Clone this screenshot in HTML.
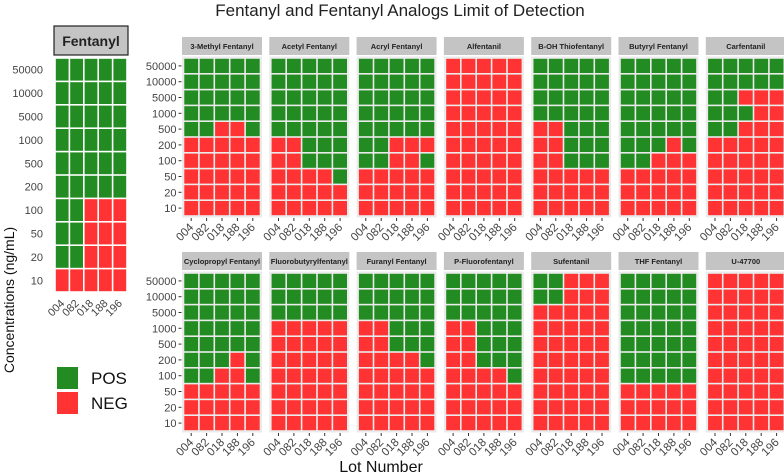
<!DOCTYPE html>
<html><head><meta charset="utf-8"><style>
body{margin:0;background:#fff;}
svg{display:block;font-family:"Liberation Sans",sans-serif;}
</style></head><body>
<svg id="chart" width="784" height="476" viewBox="0 0 784 476">
<text x="400" y="16" font-size="17" text-anchor="middle" fill="#222">Fentanyl and Fentanyl Analogs Limit of Detection</text>
<text transform="translate(14,300) rotate(-90)" font-size="14" text-anchor="middle" fill="#111">Concentrations (ng/mL)</text>
<text x="381" y="472" font-size="16" text-anchor="middle" fill="#111">Lot Number</text>
<g>
<rect x="57" y="367" width="21" height="22" fill="#228B22"/>
<text x="91" y="384" font-size="17" fill="#111">POS</text>
<rect x="57" y="392" width="21" height="22" fill="#FF3333"/>
<text x="91" y="409" font-size="17" fill="#111">NEG</text>
</g>
<g id="plots"></g>
</svg>
<script>
const concentrations = ["50000","10000","5000","1000","500","200","100","50","20","10"];
const lots = ["004","082","018","188","196"];
const panelNames = ["3-Methyl Fentanyl","Acetyl Fentanyl","Acryl Fentanyl","Alfentanil","B-OH Thiofentanyl","Butyryl Fentanyl","Carfentanil","Cyclopropyl Fentanyl","Fluorobutyrylfentanyl","Furanyl Fentanyl","P-Fluorofentanyl","Sufentanil","THF Fentanyl","U-47700"];
// rows top (50000) to bottom (10); 1 = POS, 0 = NEG; columns in lot order
const fentanylResults = ["11111","11111","11111","11111","11111","11111","11000","11000","11000","00000"];
const panelResults = [
 ["11111","11111","11111","11111","11001","00000","00000","00000","00000","00000"],
 ["11111","11111","11111","11111","11111","00111","00111","00001","00000","00000"],
 ["11111","11111","11111","11111","11111","11000","11001","00000","00000","00000"],
 ["00000","00000","00000","00000","00000","00000","00000","00000","00000","00000"],
 ["11111","11111","11111","11111","00111","00111","00111","00000","00000","00000"],
 ["11111","11111","11111","11111","11111","11101","11000","00000","00000","00000"],
 ["11111","11111","11000","11100","11000","00000","00000","00000","00000","00000"],
 ["11111","11111","11111","11111","11111","11101","11001","00000","00000","00000"],
 ["11111","11111","11111","00000","00000","00000","00000","00000","00000","00000"],
 ["11111","11111","11111","00111","00111","00001","00000","00000","00000","00000"],
 ["11111","11111","11111","00111","00111","00111","00001","00000","00000","00000"],
 ["11000","11000","00000","00000","00000","00000","00000","00000","00000","00000"],
 ["11111","11111","11111","11111","11111","11111","11111","00000","00000","00000"],
 ["00000","00000","00000","00000","00000","00000","00000","00000","00000","00000"]
];
const POS="#228B22", NEG="#FF3333";
const NS="http://www.w3.org/2000/svg";
const root=document.getElementById('plots');
function mk(tag,attrs,parent){const e=document.createElementNS(NS,tag);for(const k in attrs)e.setAttribute(k,attrs[k]);(parent||root).appendChild(e);return e;}

function drawPanel(name,results,x0,y0,w,h,opts){
  const g=mk('g',{});
  
  
  const cw=w/lots.length, ch=h/concentrations.length;
  const xs=i=>x0+i*cw, ys=j=>y0+j*ch;
  if(!opts.big){
    const bg=mk('rect',{x:x0-1.5,y:y0-1.5,width:w+3,height:h+3,fill:'#ebebeb'},g);
    
    
  }
  const st=mk('rect',opts.big?{x:x0-1,y:y0-32,width:w+2,height:29,fill:'#c4c4c4',stroke:'#222','stroke-width':1.2}:{x:x0-1.5,y:y0-21,width:w+3,height:18,fill:'#c4c4c4'},g);
  
  
  const stt=mk('text',{x:x0+w/2,y:opts.big?y0-12:y0-9,'font-size':opts.big?14:7.5,'font-weight':'bold','text-anchor':'middle',fill:'#222'},g);
  stt.textContent=name;
  
  
  results.forEach((row,j)=>{
    row.split('').forEach((v,i)=>{
      const r=mk('rect',{x:xs(i)+0.8,y:ys(j)+0.8,width:cw-1.6,height:ch-1.6,fill:v==='1'?POS:NEG},g);
      
      
    });
  });
  if(opts.yLabels){
    concentrations.forEach((c,j)=>{
      const t=mk('text',{x:opts.big?x0-12:x0-7,y:ys(j)+ch/2+4,'font-size':11,'text-anchor':'end',fill:'#444'},g);
      t.textContent=c;
      
      
      if(!opts.big){
        const tk=mk('line',{x1:x0-5,x2:x0-2,y1:ys(j)+ch/2,y2:ys(j)+ch/2,stroke:'#333','stroke-width':1},g);
        
        
      }
    });
  }
  lots.forEach((l,i)=>{
    const cx=xs(i)+cw/2;
    if(!opts.big){
      const tk=mk('line',{x1:cx,x2:cx,y1:y0+h+2,y2:y0+h+5,stroke:'#333','stroke-width':1},g);
      
      
    }
    const ty=y0+h+12;
    const t=mk('text',{x:cx+3,y:ty,'font-size':opts.big?11:11.5,'text-anchor':'end',fill:'#444',transform:`rotate(-45 ${cx+3} ${ty})`},g);
    t.textContent=l;
    
    
  });
}

drawPanel('Fentanyl',fentanylResults,55,58,72,234,{big:true,yLabels:true});
const step=87.3, pw=77, ph=158;
panelNames.forEach((n,k)=>{
  const col=k%7, row=Math.floor(k/7);
  const x0=183.5+col*step, y0=row===0?58:273;
  drawPanel(n,panelResults[k],x0,y0,pw,ph,{big:false,yLabels:col===0});
});
</script>
</body></html>
